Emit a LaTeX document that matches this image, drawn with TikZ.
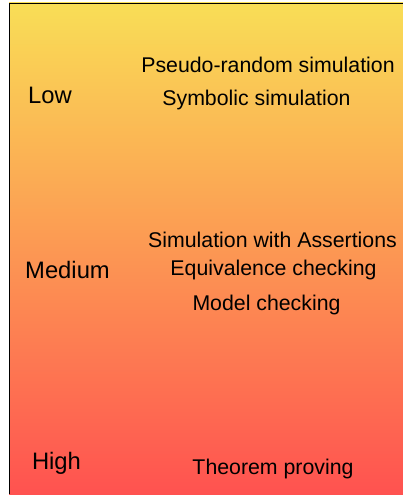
\documentclass[tikz,border=0pt]{standalone}
\usepackage{fontspec}
\setmainfont{Liberation Sans}
\usepackage{xcolor}
\definecolor{lowcol}{RGB}{249,222,86}
\definecolor{midcol}{RGB}{254,168,82}
\definecolor{highcol}{RGB}{255,82,80}

\begin{document}
\begin{tikzpicture}[x=1pt,y=-1pt,level node/.style={anchor=base,inner sep=0pt,font=\fontsize{23.8}{26}\selectfont},method node/.style={anchor=base,inner sep=0pt,font=\fontsize{21.3}{24}\selectfont}]
			\useasboundingbox (0,0) rectangle (402,495);
			% Background
			\shade[top color=lowcol,middle color=midcol,bottom color=highcol] (9,3) rectangle (406,494);
			\draw[black,line width=0.8pt] (406,3) -- (9,3) -- (9,494);
			
			% Nodes
			\node[level node] (low) at (50,103) {Low};
			\node[level node] (medium) at (67.5,278) {Medium};
			\node[level node] (high) at (56.5,469) {High};
			
			\node[method node] (pseudo) at (268,72) {Pseudo-random simulation};
			\node[method node] (symbolic) at (256.5,105) {Symbolic simulation};
			
			\node[method node] (assert) at (272.5,247) {Simulation with Assertions};
			\node[method node] (equiv) at (273.5,275) {Equivalence checking};
			\node[method node] (model) at (266.5,310) {Model checking};
			
			\node[method node] (theorem) at (273,474) {Theorem proving};
			
		\end{tikzpicture}
\end{document}
